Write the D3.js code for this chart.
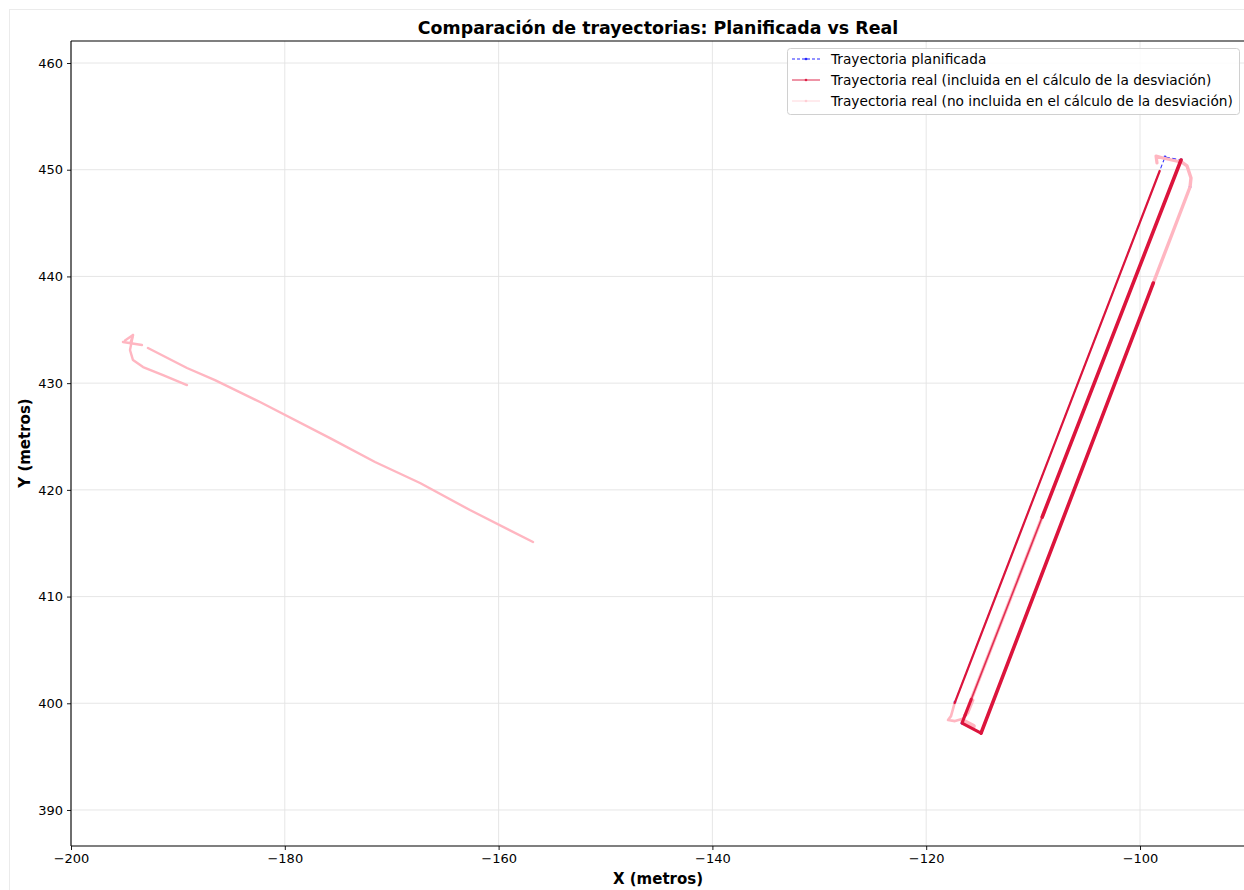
<!DOCTYPE html>
<html><head><meta charset="utf-8">
<script src="https://cdn.jsdelivr.net/npm/d3@7"></script>
<style>
html,body{margin:0;padding:0;background:#fff;}
svg{display:block;font-family:"DejaVu Sans",sans-serif;}
</style></head>
<body>
<svg id="chart" width="1244" height="890"></svg>
<script>
// ---------------- DATA ----------------
const title = "Comparación de trayectorias: Planificada vs Real";
const xLabel = "X (metros)";
const yLabel = "Y (metros)";
const xTicks = [-200, -180, -160, -140, -120, -100];
const yTicks = [390, 400, 410, 420, 430, 440, 450, 460];
const legendLabels = [
  "Trayectoria planificada",
  "Trayectoria real (incluida en el cálculo de la desviación)",
  "Trayectoria real (no incluida en el cálculo de la desviación)"
];

// planned trajectory (x, y)
const plannedX = [-117.31, -97.66, -96.16, -116.65, -114.87, -95.32];
const plannedY = [400.11, 451.19, 450.91, 398.14, 397.21, 448.38];

// real trajectory, segments included in deviation
const realInA = [[-117.34, 400.02], [-98.16, 449.88]];
const realInB = [[-96.16, 450.91], [-109.15, 417.45]];
const realInBlow = [[-109.15, 417.45], [-116.36, 398.89]];
const realInBend = [[-115.78, 400.38], [-116.36, 398.89]];
const realInBbot = [[-116.36, 398.89], [-116.65, 398.14], [-114.87, 397.21]];
const realInC = [[-114.87, 397.21], [-98.76, 439.38]];

// real trajectory, segments not included in deviation
const realOutCtop = [[-98.76, 439.38], [-96.99, 444.00], [-95.32, 448.38], [-95.23, 449.22], [-95.60, 450.35], [-96.26, 450.82]];
const realOutTopA = [[-98.41, 450.63], [-98.50, 451.28], [-97.85, 451.10], [-96.30, 450.75]];
const realOutBmid = [[-108.94, 418.00], [-116.36, 398.89]];
const realOutBot = [[-117.34, 400.02], [-117.68, 398.80], [-117.96, 398.43], [-117.31, 398.33], [-116.65, 398.52], [-116.09, 399.08], [-115.60, 400.30]];
const realOutBotBand = [[-116.55, 398.35], [-115.60, 397.85]];
const realOutWest1 = [[-192.80, 433.29], [-189.15, 431.42], [-186.53, 430.29], [-182.32, 428.23], [-175.77, 424.85], [-171.56, 422.61], [-167.35, 420.64], [-162.68, 418.11], [-156.78, 415.11]];
const realOutWest2 = [[-195.14, 433.85], [-193.36, 433.57]];
const realOutWest3 = [[-194.20, 434.51], [-194.48, 433.10], [-194.20, 432.16], [-193.26, 431.51], [-191.39, 430.76], [-189.15, 429.82]];
const realOutWest4 = [[-194.95, 434.00], [-194.20, 434.51], [-194.45, 433.75]];

// ---------------- LAYOUT ----------------
const svg = d3.select("#chart");
const L = 71, T = 41, R = 1244, B = 846;
const kx = 10.69, ky = 10.671;
const x = d3.scaleLinear().domain([-200, -200 + (R - L) / kx]).range([L, R]);
const y = d3.scaleLinear().domain([390 - (B - 810) / ky, 460 + (63 - T) / ky]).range([B, T]);

// figure frame
svg.append("rect").attr("x", 9.5).attr("y", 9.5).attr("width", 1300).attr("height", 1000)
  .attr("fill", "none").attr("stroke", "#ebebeb").attr("stroke-width", 1);

svg.append("defs").append("clipPath").attr("id", "clip")
  .append("rect").attr("x", L).attr("y", T).attr("width", R - L).attr("height", B - T);

// grid
const grid = svg.append("g");
grid.selectAll(".gx").data(xTicks).join("line")
  .attr("x1", d => x(d)).attr("x2", d => x(d)).attr("y1", T).attr("y2", B)
  .attr("stroke", "#e3e3e3").attr("stroke-width", 0.9);
grid.selectAll(".gy").data(yTicks).join("line")
  .attr("x1", L).attr("x2", R).attr("y1", d => y(d)).attr("y2", d => y(d))
  .attr("stroke", "#e3e3e3").attr("stroke-width", 0.9);

const plot = svg.append("g").attr("clip-path", "url(#clip)");
const line = d3.line().x(d => x(d[0])).y(d => y(d[1]));

// planned
const planned = plannedX.map((v, i) => [v, plannedY[i]]);
plot.append("path").attr("d", line(planned)).attr("fill", "none")
  .attr("stroke", "#0000ff").attr("stroke-width", 1.1).attr("stroke-dasharray", "4,2.5").attr("opacity", 0.8);
plot.selectAll(".pd").data(planned).join("circle")
  .attr("cx", d => x(d[0])).attr("cy", d => y(d[1])).attr("r", 1.4).attr("fill", "#0000ff").attr("opacity", 0.8);

const PINK = "#ffb6c1", RED = "#dc143c";
function draw(pts, color, w, op) {
  plot.append("path").attr("d", line(pts)).attr("fill", "none")
    .attr("stroke", color).attr("stroke-width", w).attr("stroke-linejoin", "round")
    .attr("stroke-linecap", "round").attr("opacity", op || 1);
}
// not included (pink)
draw(realOutWest1, PINK, 2.4);
draw(realOutWest2, PINK, 2.4);
draw(realOutWest3, PINK, 2.4);
draw(realOutWest4, PINK, 2.4);
draw(realOutCtop, PINK, 3.4);
draw(realOutTopA, PINK, 3.2);
draw(realOutBot, PINK, 2.6);
draw(realOutBotBand, PINK, 5);
draw(realOutBmid, PINK, 3.4);
// included (crimson)
draw(realInA, RED, 2.2);
draw(realInB, RED, 3.6);
draw(realInBlow, RED, 1.5, 0.85);
draw(realInBend, RED, 3);
draw(realInBbot, RED, 3);
draw(realInC, RED, 3.6);

// axes
const fs = 13;
const xAxis = svg.append("g").attr("transform", `translate(0,${B})`)
  .call(d3.axisBottom(x).tickValues(xTicks).tickSize(4).tickPadding(4).tickFormat(d => d3.format("")(d).replace("-", "\u2212")));
const yAxis = svg.append("g").attr("transform", `translate(${L},0)`)
  .call(d3.axisLeft(y).tickValues(yTicks).tickSize(4).tickPadding(4));
[xAxis, yAxis].forEach(a => {
  a.select(".domain").remove();
  a.selectAll("text").attr("font-size", fs).attr("font-family", "DejaVu Sans").attr("fill", "#000");
  a.selectAll("line").attr("stroke", "#000").attr("stroke-width", 0.9);
});
// spines
svg.append("line").attr("x1", L).attr("x2", L).attr("y1", T).attr("y2", B).attr("stroke", "#000").attr("stroke-width", 1.1);
svg.append("line").attr("x1", L).attr("x2", R).attr("y1", B).attr("y2", B).attr("stroke", "#000").attr("stroke-width", 1.1);
svg.append("line").attr("x1", L).attr("x2", R).attr("y1", T).attr("y2", T).attr("stroke", "#000").attr("stroke-width", 1.1);

// titles
svg.append("text").attr("x", 658).attr("y", 34).attr("text-anchor", "middle")
  .attr("font-size", 17.4).attr("font-weight", "bold").text(title);
svg.append("text").attr("x", 658).attr("y", 884).attr("text-anchor", "middle")
  .attr("font-size", 15).attr("font-weight", "bold").text(xLabel);
svg.append("text").attr("transform", "translate(30,443) rotate(-90)").attr("text-anchor", "middle")
  .attr("font-size", 15).attr("font-weight", "bold").text(yLabel);

// legend
const lg = svg.append("g");
lg.append("rect").attr("x", 787.5).attr("y", 48.5).attr("width", 452).attr("height", 66).attr("rx", 3)
  .attr("fill", "#fff").attr("fill-opacity", 0.85).attr("stroke", "#d0d0d0");
const legStyles = [
  {c: "#0000ff", dash: "3,2", op: 0.85},
  {c: RED, dash: null, op: 0.9},
  {c: PINK, dash: null, op: 0.55}
];
legendLabels.forEach((t, i) => {
  const yy = 59 + i * 21;
  const s = legStyles[i];
  lg.append("line").attr("x1", 792).attr("x2", 820).attr("y1", yy).attr("y2", yy)
    .attr("stroke", s.c).attr("stroke-width", 1).attr("opacity", s.op).attr("stroke-dasharray", s.dash);
  lg.append("circle").attr("cx", 806).attr("cy", yy).attr("r", 1.3).attr("fill", s.c).attr("opacity", s.op);
  lg.append("text").attr("x", 831).attr("y", yy + 4.8).attr("font-size", 13.7).text(t);
});
</script>
</body></html>
